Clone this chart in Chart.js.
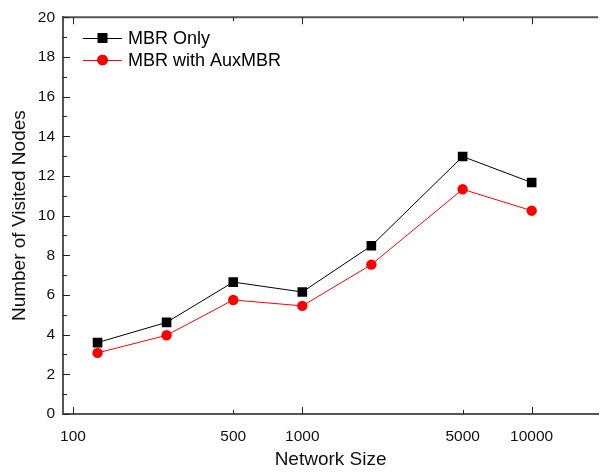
<!DOCTYPE html>
<html>
<head>
<meta charset="utf-8">
<script src="https://cdn.jsdelivr.net/npm/chart.js@4"></script>
<style>
  html, body { margin: 0; padding: 0; background: #fff; }
  #wrap { width: 605px; height: 472px; position: relative; }
</style>
</head>
<body>
<div id="wrap"><canvas id="chart"></canvas></div>
<script>
// network sizes (x, log scale) and visited node counts per method
const networkSizes = [128, 256, 500, 1000, 2000, 5000, 10000];
const mbrOnly      = [3.6, 4.62, 6.65, 6.15, 8.48, 12.98, 11.67];
const mbrAux       = [3.08, 3.97, 5.75, 5.45, 7.53, 11.33, 10.25];
const xTickValues  = [100, 500, 1000, 5000, 10000];
const xMajorTicks  = [100, 1000, 10000];
const seriesNames  = ["MBR Only", "MBR with AuxMBR"];

const FONT = "'Liberation Sans', Arial, sans-serif";
const AXIS = "#555";

const toPoints = (ys) => networkSizes.map((x, i) => ({ x, y: ys[i] }));

// inward ticks on bottom/top/left, plus top frame line
const frameTicks = {
  id: "frameTicks",
  afterDraw(chart) {
    const { ctx, chartArea: a, scales: { x, y } } = chart;
    ctx.save();
    ctx.strokeStyle = AXIS;
    ctx.lineWidth = 2;
    ctx.beginPath();
    ctx.moveTo(a.left, a.top); ctx.lineTo(a.right, a.top);
    ctx.stroke();
    ctx.strokeStyle = "#222";
    ctx.lineWidth = 1;
    ctx.beginPath();
    xTickValues.forEach(v => {
      const px = Math.round(x.getPixelForValue(v)) + 0.5;
      const len = xMajorTicks.includes(v) ? 7 : 4;
      ctx.moveTo(px, a.bottom); ctx.lineTo(px, a.bottom - len);
      ctx.moveTo(px, a.top); ctx.lineTo(px, a.top + len);
    });
    for (let v = 0; v <= 20; v++) {
      const py = Math.round(y.getPixelForValue(v)) + 0.5;
      const len = v % 2 === 0 ? 7 : 4;
      ctx.moveTo(a.left, py); ctx.lineTo(a.left + len, py);
    }
    ctx.stroke();
    ctx.restore();
  }
};

// legend drawn inside the plot, line + marker like the original
const innerLegend = {
  id: "innerLegend",
  afterDraw(chart) {
    const { ctx } = chart;
    ctx.save();
    ctx.font = "18px " + FONT;
    ctx.textBaseline = "middle";
    chart.data.datasets.forEach((ds, i) => {
      const yy = 38 + i * 22;
      ctx.strokeStyle = ds.borderColor;
      ctx.lineWidth = 1;
      ctx.beginPath();
      ctx.moveTo(83, yy + 0.5); ctx.lineTo(122, yy + 0.5);
      ctx.stroke();
      Chart.helpers.drawPoint(ctx, {
        pointStyle: ds.pointStyle, radius: ds.pointRadius, borderWidth: 0
      }, 102.5, yy);
      ctx.fillStyle = ds.pointBackgroundColor;
      ctx.fill();
      ctx.fillStyle = "#000";
      ctx.fillText(ds.label, 128, yy + 1);
    });
    ctx.restore();
  }
};

new Chart(document.getElementById("chart"), {
  type: "line",
  data: {
    datasets: [
      {
        label: seriesNames[0], data: toPoints(mbrOnly),
        borderColor: "#000", backgroundColor: "#000", pointBackgroundColor: "#000",
        borderWidth: 1, pointStyle: "rect", pointRadius: 6.8, pointBorderWidth: 0, pointHoverRadius: 6.8
      },
      {
        label: seriesNames[1], data: toPoints(mbrAux),
        borderColor: "#ff0000", backgroundColor: "#ff0000", pointBackgroundColor: "#ff0000",
        borderWidth: 1, pointStyle: "circle", pointRadius: 5.2, pointBorderWidth: 0, pointHoverRadius: 5.2
      }
    ]
  },
  options: {
    responsive: true, maintainAspectRatio: false, animation: false,
    layout: { padding: { top: 14, right: 0, left: 0, bottom: 0 } },
    plugins: { legend: { display: false }, tooltip: { enabled: false } },
    scales: {
      x: {
        type: "logarithmic", min: 90.5, max: 19500,
        grid: { display: false, drawTicks: false },
        border: { display: true, color: AXIS, width: 2 },
        afterBuildTicks: (s) => { s.ticks = xTickValues.map(v => ({ value: v })); },
        afterFit: (s) => { s.height = 58; },
        ticks: {
          autoSkip: false, maxRotation: 0, padding: 13, color: "#111",
          font: { family: FONT, size: 15.5 },
          callback: (v) => String(v)
        },
        title: {
          display: true, text: "Network Size", color: "#111",
          font: { family: FONT, size: 19 }, padding: { top: 0, bottom: 1 }
        }
      },
      y: {
        min: 0, max: 20,
        grid: { display: false, drawTicks: false },
        border: { display: true, color: AXIS, width: 2 },
        afterFit: (s) => { s.width = 63; },
        ticks: {
          stepSize: 2, padding: 8, color: "#111",
          font: { family: FONT, size: 15.5 }
        },
        title: {
          display: true, text: "Number of Visited Nodes", color: "#111",
          font: { family: FONT, size: 19 }, padding: { top: 8, bottom: 0 }
        }
      }
    }
  },
  plugins: [frameTicks, innerLegend]
});
</script>
</body>
</html>
